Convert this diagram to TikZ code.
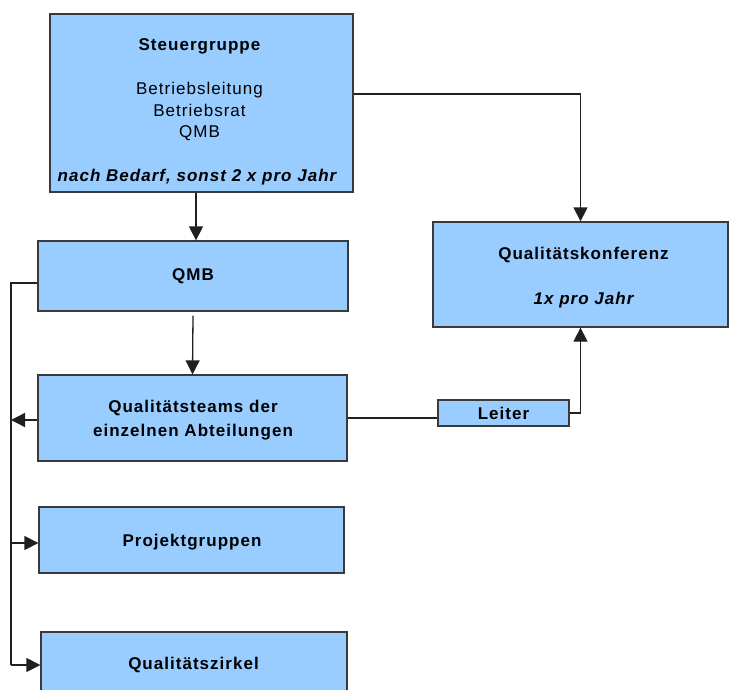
\documentclass[tikz,border=0pt]{standalone}
\usepackage{fontspec}
\setmainfont{Liberation Sans}[LetterSpace=6]
\usetikzlibrary{arrows.meta}
\definecolor{boxfill}{HTML}{99CCFF}
\definecolor{boxline}{HTML}{3A3A3A}
\definecolor{wire}{HTML}{202020}
\begin{document}
\begin{tikzpicture}[x=1pt,y=-1pt,
  box/.style={draw=boxline, fill=boxfill, line width=1.3pt, rectangle, inner sep=0pt},
  ttl/.style={font=\fontsize{17}{24}\selectfont\bfseries, inner sep=0pt, align=center},
  txt/.style={font=\fontsize{17}{21.5}\selectfont, inner sep=0pt, align=center},
  ital/.style={font=\fontsize{17}{21.5}\selectfont\bfseries\itshape, inner sep=0pt, align=center},
  wireline/.style={draw=wire, line width=1.3pt},
  arr/.style={wireline, -{Triangle[length=14pt,width=14pt]}}]
\clip (0,0) rectangle (729,689);
\fill[white] (0,0) rectangle (729,689);
% boxes
\node[box, minimum width=303pt, minimum height=178pt] (steuer) at (201.5,103) {};
\node[box, minimum width=310pt, minimum height=70pt] (qmb) at (193,276) {};
\node[box, minimum width=309pt, minimum height=86pt] (teams) at (192.5,418) {};
\node[box, minimum width=305pt, minimum height=66pt] (projekt) at (191.5,540) {};
\node[box, minimum width=306pt, minimum height=70pt] (zirkel) at (194,667) {};
\node[box, minimum width=295pt, minimum height=105pt] (konf) at (580.5,274.5) {};
\node[box, minimum width=131pt, minimum height=26pt] (leiter) at (503.5,413) {};
% texts
\node[ttl] (steuerT) at (199.5,46) {Steuergruppe};
\node[txt] (steuerM) at (199.5,111.5) {Betriebsleitung\\Betriebsrat\\QMB};
\node[ital] (steuerB) at (197,177) {nach Bedarf, sonst 2 x pro Jahr};
\node[ttl] (qmbT) at (193,276) {QMB};
\node[ttl] (teamsT) at (193,420) {Qualitätsteams der\\einzelnen Abteilungen};
\node[ttl] (projektT) at (192,542) {Projektgruppen};
\node[ttl] (zirkelT) at (193.5,665) {Qualitätszirkel};
\node[ttl] (konfT) at (583.5,255) {Qualitätskonferenz};
\node[ital] (konfB) at (583.5,300) {1x pro Jahr};
\node[ttl] (leiterT) at (503.5,413) {Leiter};
% connectors
\coordinate (bus) at (11,0);
\draw[arr] ([xshift=-5.5pt]steuer.south) -- ([xshift=-5.5pt]steuer.south |- qmb.north);
\draw[arr] ([yshift=9pt]steuer.east) -| (konf.north);
\draw[arr] ([yshift=-4pt]qmb.south) -- (teams.north);
\draw[wireline] (teams.east) -- (teams.east -| leiter.west);
\draw[arr] (leiter.east) -| (konf.south);
\draw[wireline] ([yshift=-7pt]qmb.west) -| ([yshift=2pt]bus |- zirkel.west);
\draw[arr] ([yshift=-2pt]teams.west) -- ([yshift=-2pt]teams.west -| bus);
\draw[arr] ([yshift=-3pt]bus |- projekt.west) -- ([yshift=-3pt]projekt.west);
\draw[arr] ([yshift=2pt]bus |- zirkel.west) -- ([yshift=2pt]zirkel.west);
\end{tikzpicture}
\end{document}
